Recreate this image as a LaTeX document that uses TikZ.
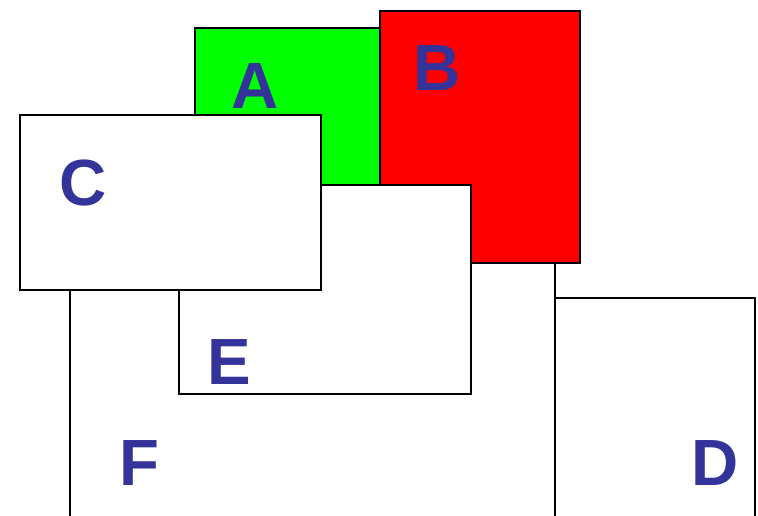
\documentclass[tikz,border=0pt]{standalone}
\usepackage{fontspec}
\setmainfont{Liberation Sans}
\definecolor{lblblue}{RGB}{51,51,153}
\definecolor{boxgreen}{RGB}{0,255,0}
\definecolor{boxred}{RGB}{255,0,0}
\tikzset{panel/.style={draw=black,line width=1.6pt},
 letter/.style={text=lblblue,font=\fontsize{49}{49}\selectfont\bfseries,inner sep=0pt}}
\newcommand{\panelbox}[5]{% left, top, right, bottom, fill
 \draw[panel,fill=#5] (#1,#2) rectangle (#3,#4);
}
\begin{document}
\begin{tikzpicture}[x=0.75pt,y=-0.75pt]
 \clip (0,0) rectangle (758,515);
 \panelbox{70}{200}{555}{560}{white}
 \panelbox{195}{28}{400}{200}{boxgreen}
 \panelbox{380}{11}{580}{263}{boxred}
 \panelbox{179}{185}{471}{394}{white}
 \panelbox{20}{115}{321}{290}{white}
 \panelbox{555}{298}{755}{560}{white}
 \node[letter] (lA) at (255,86) {A};
 \node[letter] (lB) at (437,68) {B};
 \node[letter] (lC) at (83,183) {C};
 \node[letter] (lE) at (229,362) {E};
 \node[letter] (lF) at (139,463) {F};
 \node[letter] (lD) at (715,463) {D};
\end{tikzpicture}
\end{document}
